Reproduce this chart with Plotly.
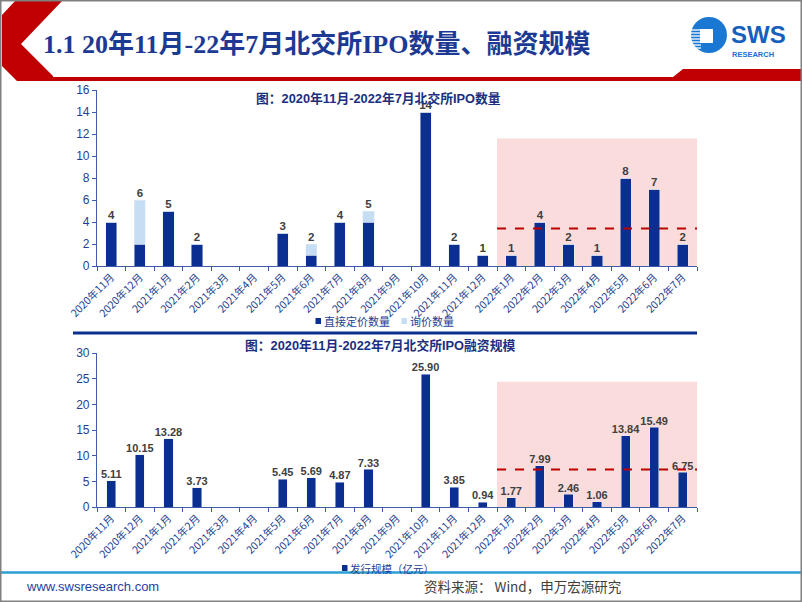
import plotly.graph_objects as go

W, H = 802, 602


def px(x):
    return x / W


def py(y):
    return 1 - y / H


# ---------------- data ----------------
months = ["2020年11月", "2020年12月", "2021年1月", "2021年2月", "2021年3月", "2021年4月",
          "2021年5月", "2021年6月", "2021年7月", "2021年8月", "2021年9月", "2021年10月",
          "2021年11月", "2021年12月", "2022年1月", "2022年2月", "2022年3月", "2022年4月",
          "2022年5月", "2022年6月", "2022年7月"]
direct_count = [4, 2, 5, 2, 0, 0, 3, 1, 4, 4, 0, 14, 2, 1, 1, 4, 2, 1, 8, 7, 2]
inquiry_count = [0, 4, 0, 0, 0, 0, 0, 1, 0, 1, 0, 0, 0, 0, 0, 0, 0, 0, 0, 0, 0]
funds = [5.11, 10.15, 13.28, 3.73, 0, 0, 5.45, 5.69, 4.87, 7.33, 0, 25.90, 3.85, 0.94,
         1.77, 7.99, 2.46, 1.06, 13.84, 15.49, 6.75]
avg_count_2022 = 3.4
avg_funds_2022 = 7.3
count_ticks = [0, 2, 4, 6, 8, 10, 12, 14, 16]
funds_ticks = [0, 5, 10, 15, 20, 25, 30]

total_count = [d + i for d, i in zip(direct_count, inquiry_count)]
count_labels = [str(v) if v > 0 else "" for v in total_count]
funds_labels = [f"{v:.2f}" if v > 0 else "" for v in funds]

# ---------------- styles ----------------
DARK = "#0b2f91"
LIGHT = "#c6def3"
AXIS = "#3f5cab"
TXT = "#1f3f8f"
RED = "#c00000"
PINK = "#fadcdc"
SANS = "Liberation Sans, Noto Sans CJK SC, sans-serif"
CJK = "Noto Sans CJK SC, Liberation Sans, sans-serif"

fig = go.Figure()

fig.add_trace(go.Bar(x=months, y=direct_count, name="直接定价数量", marker_color=DARK,
                     width=0.39, xaxis="x", yaxis="y", showlegend=False))
fig.add_trace(go.Bar(x=months, y=inquiry_count, name="询价数量", marker_color=LIGHT,
                     width=0.39, xaxis="x", yaxis="y", showlegend=False))
fig.add_trace(go.Scatter(x=months, y=total_count, text=count_labels, mode="text",
                         textposition="top center", cliponaxis=False,
                         textfont=dict(family=SANS, size=11.5, color="#404040", weight="bold"),
                         xaxis="x", yaxis="y", showlegend=False, hoverinfo="skip"))

fig.add_trace(go.Bar(x=months, y=funds, name="发行规模（亿元）", marker_color=DARK,
                     width=0.32, xaxis="x2", yaxis="y2", showlegend=False))
fig.add_trace(go.Scatter(x=months, y=funds, text=funds_labels, mode="text",
                         textposition="top center", cliponaxis=False,
                         textfont=dict(family=SANS, size=11, color="#404040", weight="bold"),
                         xaxis="x2", yaxis="y2", showlegend=False, hoverinfo="skip"))

xcommon = dict(type="category", categoryorder="array", categoryarray=months,
               tickangle=-45, ticks="outside", tickson="boundaries", ticklen=4,
               tickcolor=AXIS, showline=True, linecolor=AXIS, linewidth=1.2,
               showgrid=False, tickfont=dict(family=CJK, size=10.5, color=TXT),
               domain=[px(97), px(697)], range=[-0.5, 20.5], fixedrange=True,
               automargin=False)
ycommon = dict(ticks="outside", ticklen=4, tickcolor=AXIS, showline=True, linecolor=AXIS,
               linewidth=1.2, showgrid=False, zeroline=False, automargin=False,
               tickfont=dict(family=SANS, size=12, color=TXT), fixedrange=True)

fig.update_layout(
    width=W, height=H, margin=dict(l=0, r=0, t=0, b=0, pad=0, autoexpand=False),
    paper_bgcolor="white", plot_bgcolor="rgba(0,0,0,0)",
    barmode="stack",
    xaxis=dict(xcommon, anchor="y"),
    yaxis=dict(ycommon, anchor="x", domain=[py(266), py(90)], range=[0, 16],
               tickvals=count_ticks),
    xaxis2=dict(xcommon, anchor="y2"),
    yaxis2=dict(ycommon, anchor="x2", domain=[py(507), py(353)], range=[0, 30],
                tickvals=funds_ticks),
)

shapes = []
# highlighted 2022 regions
shapes.append(dict(type="rect", xref="x", yref="y", x0=13.5, x1=20.55, y0=0, y1=11.6,
                   fillcolor=PINK, line_width=0, layer="below"))
shapes.append(dict(type="rect", xref="x2", yref="y2", x0=13.5, x1=20.55, y0=0, y1=24.4,
                   fillcolor=PINK, line_width=0, layer="below"))
# average dashed lines
shapes.append(dict(type="line", xref="x", yref="y", x0=13.5, x1=20.6,
                   y0=avg_count_2022, y1=avg_count_2022,
                   line=dict(color=RED, width=2, dash="dash")))
shapes.append(dict(type="line", xref="x2", yref="y2", x0=13.5, x1=20.6,
                   y0=avg_funds_2022, y1=avg_funds_2022,
                   line=dict(color=RED, width=2, dash="dash")))


def path(points):
    s = "M " + " L ".join(f"{px(x):.5f},{py(y):.5f}" for x, y in points) + " Z"
    return s


# red chevron and title underline
shapes.append(dict(type="path", xref="paper", yref="paper",
                   path=path([(16, 0), (63, 0), (21, 44), (53, 76), (53, 81), (17, 81),
                              (2, 66), (2, 15)]),
                   fillcolor=RED, line_width=0))
shapes.append(dict(type="rect", xref="paper", yref="paper", x0=px(17), x1=px(690),
                   y0=py(81), y1=py(77), fillcolor=RED, line_width=0))
shapes.append(dict(type="path", xref="paper", yref="paper",
                   path=path([(668, 81), (683, 69), (802, 69), (802, 81)]),
                   fillcolor=RED, line_width=0))
# separator between the charts
shapes.append(dict(type="line", xref="paper", yref="paper", x0=px(73), x1=px(697),
                   y0=py(333), y1=py(333), line=dict(color="#0a2f8f", width=3)))
# footer line
shapes.append(dict(type="line", xref="paper", yref="paper", x0=0, x1=1,
                   y0=py(572.5), y1=py(572.5), line=dict(color="#2a9fd4", width=2.5)))
# legend squares
shapes.append(dict(type="rect", xref="paper", yref="paper", x0=px(315.5), x1=px(321),
                   y0=py(324), y1=py(318), fillcolor=DARK, line_width=0))
shapes.append(dict(type="rect", xref="paper", yref="paper", x0=px(401.5), x1=px(407),
                   y0=py(324), y1=py(318), fillcolor=LIGHT, line_width=0))
shapes.append(dict(type="rect", xref="paper", yref="paper", x0=px(342), x1=px(347.5),
                   y0=py(571), y1=py(565), fillcolor=DARK, line_width=0))
# logo
shapes.append(dict(type="circle", xref="paper", yref="paper", x0=px(691), x1=px(727),
                   y0=py(53), y1=py(17), fillcolor="#1a78d2", line_width=0))
shapes.append(dict(type="rect", xref="paper", yref="paper", x0=px(700), x1=px(713),
                   y0=py(43), y1=py(29), fillcolor="white", line_width=0))
for yy in [30, 33, 36, 39, 42, 45, 48]:
    shapes.append(dict(type="line", xref="paper", yref="paper", x0=px(689), x1=px(701),
                       y0=py(yy), y1=py(yy), line=dict(color="white", width=1.3)))
# frame
shapes.append(dict(type="rect", xref="paper", yref="paper", x0=0, x1=1, y0=0, y1=1,
                   line=dict(color="#808080", width=3), fillcolor="rgba(0,0,0,0)"))

fig.update_layout(shapes=shapes)

ann = []
ann.append(dict(text="<b>1.1 20年11月-22年7月北交所IPO数量、融资规模</b>", x=px(41), y=py(45),
                xref="paper", yref="paper", xanchor="left", yanchor="middle", showarrow=False,
                font=dict(family="Liberation Serif, Noto Sans CJK SC, serif", size=26,
                          color="#1c3a94")))
ann.append(dict(text="<b>图：2020年11月-2022年7月北交所IPO数量</b>", x=px(378), y=py(98),
                xref="paper", yref="paper", xanchor="center", yanchor="middle",
                showarrow=False, font=dict(family=SANS, size=12.8, color="#1a2f80")))
ann.append(dict(text="<b>图：2020年11月-2022年7月北交所IPO融资规模</b>", x=px(380), y=py(345),
                xref="paper", yref="paper", xanchor="center", yanchor="middle",
                showarrow=False, font=dict(family=SANS, size=12.8, color="#1a2f80")))
ann.append(dict(text="直接定价数量", x=px(322), y=py(321), xref="paper", yref="paper",
                xanchor="left", yanchor="middle", showarrow=False,
                font=dict(family=CJK, size=11, color=TXT)))
ann.append(dict(text="询价数量", x=px(407.5), y=py(321), xref="paper", yref="paper",
                xanchor="left", yanchor="middle", showarrow=False,
                font=dict(family=CJK, size=11, color=TXT)))
ann.append(dict(text="发行规模（亿元）", x=px(348), y=py(568), xref="paper", yref="paper",
                xanchor="left", yanchor="middle", showarrow=False,
                font=dict(family=CJK, size=10.5, color=TXT)))
ann.append(dict(text="www.swsresearch.com", x=px(24), y=py(586), xref="paper", yref="paper",
                xanchor="left", yanchor="middle", showarrow=False,
                font=dict(family=SANS, size=13, color="#1f3f9f")))
ann.append(dict(text="资料来源： Wind，申万宏源研究", x=px(422), y=py(586), xref="paper",
                yref="paper", xanchor="left", yanchor="middle", showarrow=False,
                font=dict(family=CJK, size=13.5, color="#404040")))
ann.append(dict(text="<b>SWS</b>", x=px(729), y=py(34), xref="paper", yref="paper",
                xanchor="left", yanchor="middle", showarrow=False,
                font=dict(family=SANS, size=24, color="#1560bd")))
ann.append(dict(text="<b>RESEARCH</b>", x=px(730), y=py(54), xref="paper", yref="paper",
                xanchor="left", yanchor="middle", showarrow=False,
                font=dict(family=SANS, size=7.5, color="#1a6fd0")))
fig.update_layout(annotations=ann)

fig.write_html("out.html", config={"displayModeBar": False},
               post_script="document.body.style.margin='0';"
                           "document.body.style.overflow='hidden';")
